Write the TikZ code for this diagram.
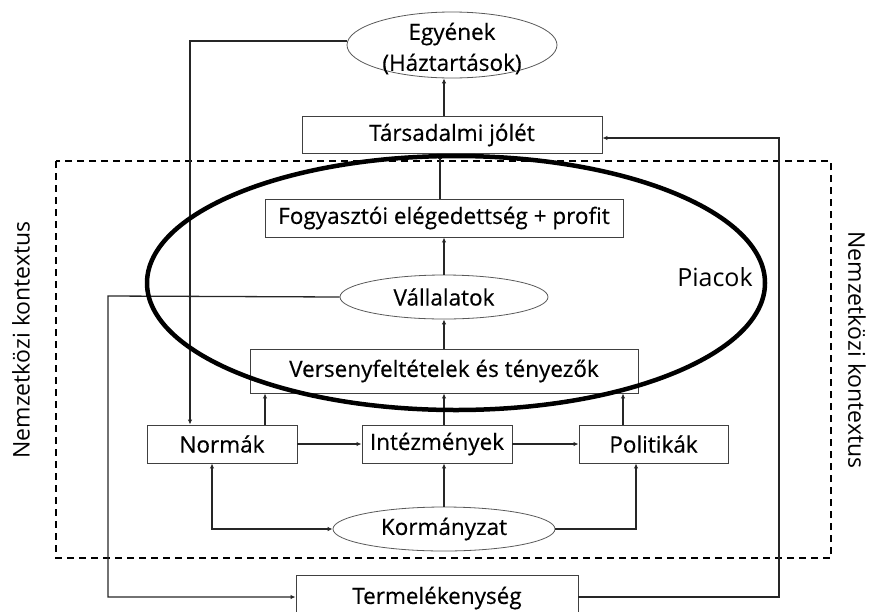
\documentclass[tikz,border=0pt]{standalone}
\usepackage{fontspec}
\setmainfont{Open Sans}
\newfontfamily\boxfont{Open Sans}[FakeBold=0.4]
\newfontfamily\plainfont{Open Sans}
\usetikzlibrary{arrows.meta,shapes.geometric}
\begin{document}
\begin{tikzpicture}[x=1pt,y=-1pt,
  lbl/.style={font=\boxfont\fontsize{22.5}{24}\selectfont},
  box/.style={draw=black!75, line width=0.9pt, inner sep=0pt, fill=none, lbl},
  oval/.style={ellipse, draw=black!65, line width=0.8pt, inner sep=0pt, lbl},
  conn/.style={draw=black!85, line width=1.3pt, -{Latex[length=5pt,width=4.5pt]}},
  both/.style={draw=black!85, line width=1.3pt, {Latex[length=5pt,width=4.5pt]}-{Latex[length=5pt,width=4.5pt]}}]
\clip (0,0) rectangle (873,611);
\useasboundingbox (0,0) rectangle (873,611);

% frame
\draw[line width=1.3pt, dash pattern=on 7pt off 5pt] (56,161) rectangle (831,558);

% nodes
\node[oval, minimum width=210pt, minimum height=66pt] (egy) at (452,45) {};
\node[lbl] (egy1) at (452,34) {Egyének};
\node[lbl] (egy2) at (452,64) {(Háztartások)};
\node[box, minimum width=300pt, minimum height=37pt] (tj) at (452,135) {Társadalmi jólét};
\node[box, minimum width=358pt, minimum height=38pt] (fog) at (444,218) {Fogyasztói elégedettség + profit};
\node[oval, minimum width=208pt, minimum height=44pt] (vall) at (444,297) {Vállalatok};
\node[box, minimum width=388pt, minimum height=44pt] (ver) at (444,371) {\raisebox{-5pt}{Versenyfeltételek és tényezők}};
\node[box, minimum width=150pt, minimum height=38pt] (norm) at (222,444) {Normák};
\node[box, minimum width=150pt, minimum height=38pt] (int) at (437,444) {Intézmények};
\node[box, minimum width=149pt, minimum height=38pt] (pol) at (653.5,444) {Politikák};
\node[oval, minimum width=222pt, minimum height=44pt] (korm) at (444,529) {Kormányzat};
\node[box, minimum width=282pt, minimum height=46pt] (term) at (437,598) {\raisebox{2pt}{Termelékenység}};

\node[font=\plainfont\fontsize{25}{27}\selectfont] (piac) at (715,277) {Piacok};
\node[font=\plainfont\fontsize{23}{25}\selectfont, rotate=90] (nkl) at (21,340) {Nemzetközi kontextus};
\node[font=\plainfont\fontsize{23}{25}\selectfont, rotate=-90] (nkr) at (857,350) {Nemzetközi kontextus};

% connectors
\draw[conn] (tj.north -| 444,0) -- (egy.south -| 444,0);
\draw[conn] (fog.north -| 440,0) -- (tj.south -| 440,0);
\draw[conn] (vall.north -| 444,0) -- (fog.south -| 444,0);
\draw[conn] (ver.north -| 444,0) -- (vall.south -| 444,0);
\draw[conn] (norm.north -| 265,0) -- (ver.south -| 265,0);
\draw[conn] (int.north -| 444,0) -- (ver.south -| 444,0);
\draw[conn] (pol.north -| 623,0) -- (ver.south -| 623,0);
\draw[conn] (norm) -- (int);
\draw[conn] (int) -- (pol);
\draw[conn] (korm.north -| 444,0) -- (int.south -| 444,0);
\draw[both] (norm.south -| 212,0) |- (korm.west);
\draw[conn] (korm.east) -| (pol.south -| 636,0);

\coordinate (c1) at (190,41);
\draw[conn] (egy.west |- c1) -- (c1) -- (norm.north -| c1);
\coordinate (c2) at (108,296);
\draw[conn] (vall.west) -- (c2) |- (term.west |- 0,597);
\coordinate (c3) at (779,597);
\draw[conn] (term.east |- c3) -- (c3) |- (tj.east |- 0,138);

% markets ellipse
\draw[line width=4.5pt] (456,283) ellipse [x radius=309pt, y radius=127pt];
\end{tikzpicture}
\end{document}
